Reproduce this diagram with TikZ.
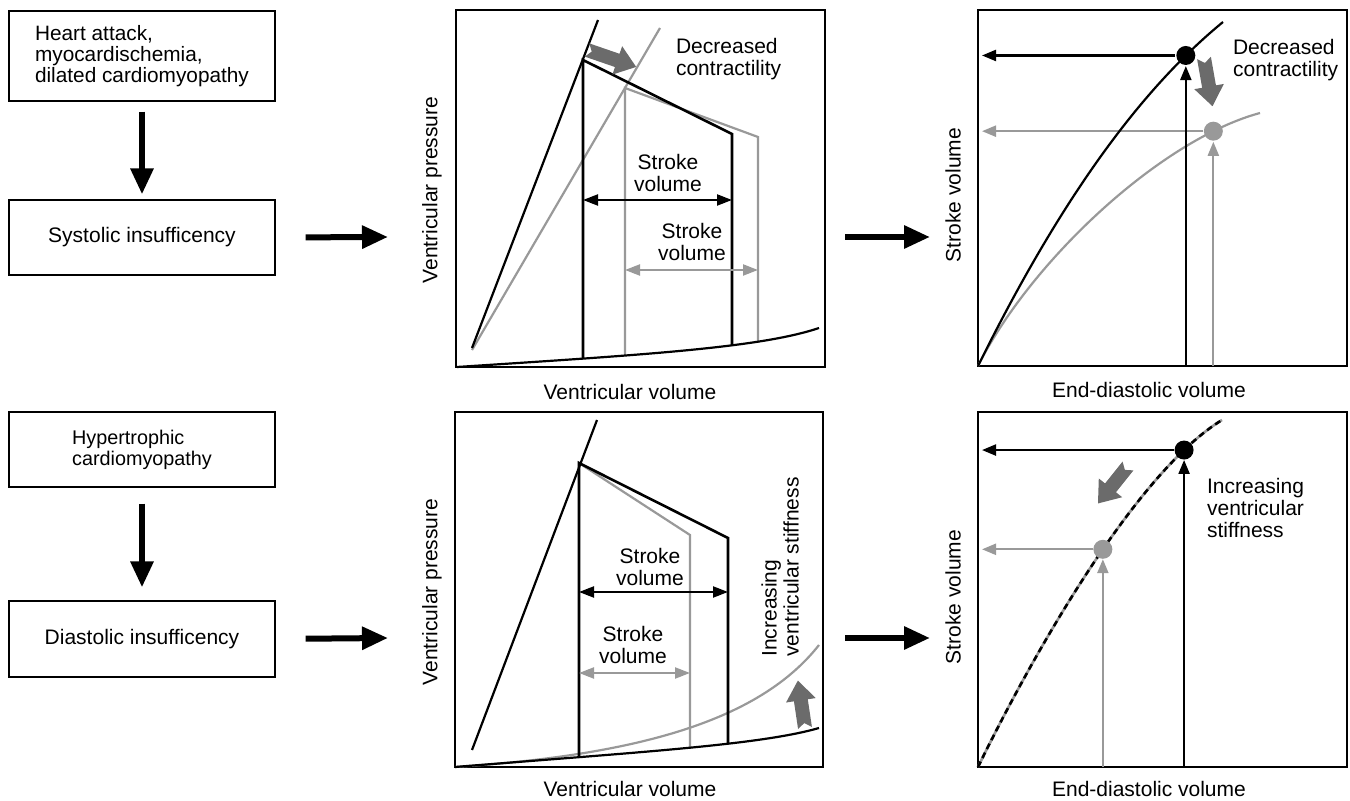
\documentclass[tikz,border=0pt]{standalone}
\usepackage{fontspec}
\setmainfont{Liberation Sans}
\usetikzlibrary{arrows.meta,positioning}

\colorlet{lgray}{black!40}
\colorlet{dgray}{black!58}

% fat grey arrow: start x, start y, angle, length
\newcommand{\fatarrow}[4]{%
  \fill[dgray,shift={(#1,#2)},rotate=#3] (0,-7) -- (#4-20,-7) -- (#4-20,-15) -- (#4,0)
    -- (#4-20,15) -- (#4-20,7) -- (0,7) -- (5,0) -- cycle;}

\tikzset{
  box/.style={draw,line width=0.6pt,minimum width=133pt,align=left},
  small/.style={font=\fontsize{9.9}{10.6}\selectfont},
  flow/.style={line width=3pt,-{Triangle[width=11pt,length=13pt]}},
  frame/.style={draw,line width=0.6pt,inner sep=0pt,outer sep=0pt},
  curve/.style={line width=1.1pt},
  pvloop/.style={line width=1.3pt},
  sv/.style={line width=1.1pt,{Triangle[width=5.5pt,length=7.5pt]}-{Triangle[width=5.5pt,length=7.5pt]}},
  ptr/.style={line width=1.1pt,-{Triangle[width=5.5pt,length=7pt]}},
  dot/.style={circle,fill=black,inner sep=0pt,minimum size=9.5pt}
}

\begin{document}
\begin{tikzpicture}[x=0.5pt,y=-0.5pt,font=\fontsize{10.5}{11}\selectfont]
    \useasboundingbox (0,0) rectangle (1350,801);

    % left column
    \node[box,font=\fontsize{10.4}{10.6}\selectfont,minimum height=45pt] (cause1) at (142,56) {Heart attack,\\myocardischemia,\\dilated cardiomyopathy};
    \node[box,minimum height=37.5pt] (sys) at (142,237.5) {Systolic insufficency};
    \node[box,small,minimum height=37.5pt] (cause2) at (142,449.5) {Hypertrophic\\cardiomyopathy};
    \node[box,minimum height=38pt] (dia) at (142,639) {Diastolic insufficency};
    \draw[flow,shorten <=5pt,shorten >=2.5pt] (cause1) -- (sys);
    \draw[flow,shorten <=8pt,shorten >=6.5pt] (cause2) -- (dia);

    \coordinate (in1) at (388,237);
    \coordinate (in3) at (388,638);
    \coordinate (out1) at (845,237);
    \coordinate (in2) at (930,237);
    \coordinate (out3) at (845,638);
    \coordinate (in4) at (930,638);
    \draw[flow,shorten <=15pt] (sys.east) -- (in1);
    \draw[flow,shorten <=15pt] (dia.east) -- (in3);
    \draw[flow] (out1) -- (in2);
    \draw[flow] (out3) -- (in4);

    % frames and axis titles
    \node[frame,minimum width=184.5pt,minimum height=178.5pt] (fr1) at (640.5,188.5) {};
    \node[frame,minimum width=184.5pt,minimum height=178pt] (fr2) at (1162.5,188) {};
    \node[frame,minimum width=184pt,minimum height=177.5pt] (fr3) at (639,589.5) {};
    \node[frame,minimum width=184.5pt,minimum height=177.5pt] (fr4) at (1162.5,589.5) {};
    \node (vv1) at (630,392) {Ventricular volume};
    \node (vv2) at (630,789) {Ventricular volume};
    \node (ed1t) at (1149,390) {End-diastolic volume};
    \node (ed2t) at (1149,789) {End-diastolic volume};
    \node[rotate=90] (vp1) at (432,190) {Ventricular pressure};
    \node[rotate=90] (vp2) at (432,592) {Ventricular pressure};
    \node[rotate=90] (sv1t) at (953,195) {Stroke volume};
    \node[rotate=90] (sv2t) at (953,597) {Stroke volume};

    % top pressure-volume loops
    \draw[lgray,curve] (472,350) -- (660,28);
    \draw[lgray,curve] (625,355.5) -- (625,88) -- (758,137) -- (758,341.5);
    \draw[curve] (472,348) -- (598,20);
    \draw[pvloop] (583,358.6) -- (583,60) -- (732,134) -- (732,345.3);
    \draw[curve] (457,367) .. controls (640,355) and (760,348) .. (819,328);
    \draw[sv] (583,200) -- (732,200);
    \node[align=center] (sva) at (668,173) {Stroke\\volume};
    \draw[sv,lgray] (625,270) -- (758,270);
    \node[align=center] (svb) at (692,242) {Stroke\\volume};
    \node[align=left,anchor=west] (dc1) at (669,59) {Decreased\\contractility};
    \fatarrow{587}{50}{-19}{52}

    % top Frank-Starling curves
    \draw[lgray,curve] (978,366) .. controls (1030,262) and (1160,140) .. (1260,113)
      node[pos=.85,dot,fill=lgray] (g1) {};
    \draw[ptr,lgray,shorten >=2pt] (g1) -- (g1 -| fr2.west);
    \draw[ptr,lgray] (g1 |- fr2.south) -- (g1);
    \draw[curve] (978,366) .. controls (1060,200) and (1140,90) .. (1223,22)
      node[pos=.85,dot] (b1) {};
    \draw[ptr,shorten >=2pt] (b1) -- (b1 -| fr2.west);
    \draw[ptr] (b1 |- fr2.south) -- (b1);
    \node[align=left,anchor=west] (dc2) at (1226,60) {Decreased\\contractility};
    \fatarrow{1204}{58}{-80}{49}

    % bottom pressure-volume loops
    \draw[lgray,curve] (455,767) .. controls (640,755) and (760,720) .. (819,645);
    \draw[lgray,curve] (579,463) -- (690,535) -- (690,748.3);
    \draw[curve] (472,750) -- (597,420);
    \draw[pvloop] (579,757.1) -- (579,463) -- (728,538) -- (728,743.7);
    \draw[curve] (455,767) .. controls (640,752) and (760,745) .. (819,728);
    \draw[sv] (579,592) -- (728,592);
    \node[align=center] (svc) at (650,567) {Stroke\\volume};
    \draw[sv,lgray] (579,673) -- (690,673);
    \node[align=center] (svd) at (633,645) {Stroke\\volume};
    \node[rotate=90,align=left] (st1) at (780,567) {Increasing\\ventricular stiffness};
    \fatarrow{805}{728}{98.5}{48}

    % bottom Frank-Starling curve
    \draw[lgray,line width=1.3pt,postaction={draw=black,dash pattern=on 3pt off 2pt}]
      (978,767) .. controls (1040,640) and (1140,470) .. (1222,420);
    \path (978,767) .. controls (1040,640) and (1140,470) .. (1222,420)
      node[pos=.54,dot,fill=lgray] (g2) {} node[pos=.85,dot] (b2) {};
    \draw[ptr,lgray,shorten >=2pt] (g2) -- (g2 -| fr4.west);
    \draw[ptr,lgray] (g2 |- fr4.south) -- (g2);
    \draw[ptr,shorten >=2pt] (b2) -- (b2 -| fr4.west);
    \draw[ptr] (b2 |- fr4.south) -- (b2);
    \node[align=left,anchor=west] (st2) at (1200,508) {Increasing\\ventricular\\stiffness};
    \fatarrow{1128}{466}{-128.7}{48}
\end{tikzpicture}
\end{document}
